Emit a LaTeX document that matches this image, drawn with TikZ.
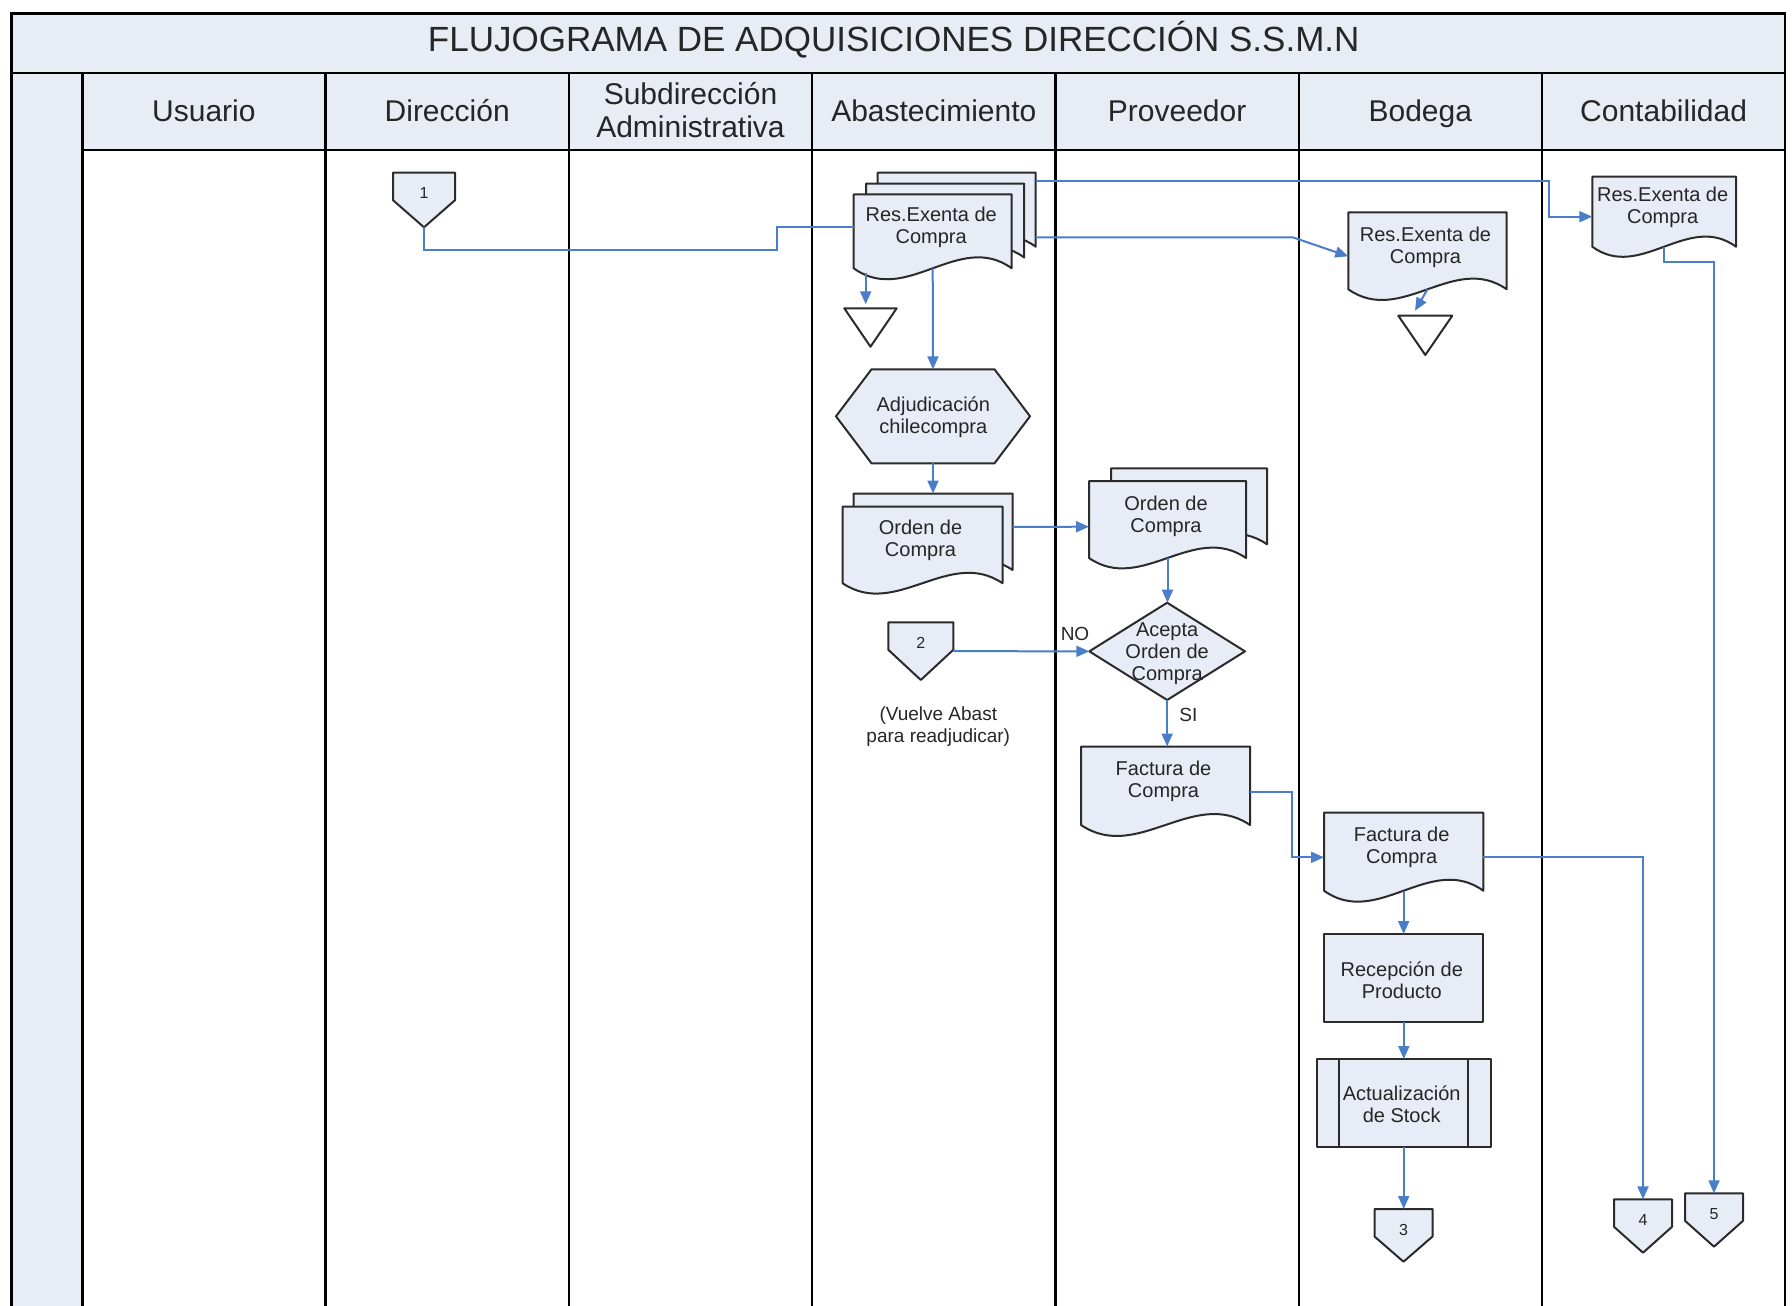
\documentclass[tikz,border=0pt]{standalone}
\usepackage{fontspec}
\setmainfont{Liberation Sans}
\usetikzlibrary{arrows.meta,calc}
\definecolor{lbfill}{HTML}{E8ECF6}
\definecolor{hdrfill}{HTML}{E8ECF4}
\definecolor{conblue}{HTML}{4A7EC8}
\definecolor{shpline}{HTML}{2B2B2B}
\tikzset{
  frame/.style={line width=2.4pt, draw=black},
  box/.style={inner sep=0pt, outer sep=0pt, draw=none},
  shp/.style={fill=lbfill, draw=shpline, line width=2pt, line join=round},
  conn/.style={draw=conblue, line width=2pt},
  arr/.style={conn, -{Triangle[length=13pt,width=11pt]}},
  txt/.style={font=\fontsize{20}{22}\selectfont, align=center, inner sep=0pt, text=black!85, yshift=-2.3pt},
  hdr/.style={font=\fontsize{30}{33}\selectfont, align=center, inner sep=0pt, text=black!85},
  digit/.style={font=\fontsize{16}{18}\selectfont, inner sep=0pt, text=black!85, yshift=-1pt},
}
\newcommand{\docshp}[2]{\filldraw[shp] (#1.north west) -- (#1.north east) -- (#1.south east)
  .. controls ($(#1.south east)!0.3333!(#1.south west)+(0,-#2)$) and ($(#1.south east)!0.6667!(#1.south west)+(0,#2)$) .. (#1.south west) -- cycle;}
\newcommand{\pentshp}[1]{\filldraw[shp] (#1.north west) -- (#1.north east) -- ($(#1.north east)+(0,27.5)$) -- (#1.south) -- ($(#1.north west)+(0,27.5)$) -- cycle;}
\newcommand{\trishp}[1]{\draw[shp, fill=white] (#1.north west) -- (#1.north east) -- (#1.south) -- cycle;}
\newcommand{\hexshp}[1]{\filldraw[shp] ($(#1.north west)+(35.5,0)$) -- ($(#1.north east)+(-35.5,0)$) -- (#1.east) -- ($(#1.south east)+(-35.5,0)$) -- ($(#1.south west)+(35.5,0)$) -- (#1.west) -- cycle;}
\newcommand{\diashp}[1]{\filldraw[shp] (#1.north) -- (#1.east) -- (#1.south) -- (#1.west) -- cycle;}
\newcommand{\predshp}[1]{\filldraw[shp] (#1.north west) rectangle (#1.south east);
  \draw[shp, fill=none] ($(#1.north west)+(22.5,0)$) -- ($(#1.south west)+(22.5,0)$);
  \draw[shp, fill=none] ($(#1.north east)+(-22.5,0)$) -- ($(#1.south east)+(-22.5,0)$);}
\newcommand{\rectshp}[1]{\filldraw[shp] (#1.north west) rectangle (#1.south east);}

\begin{document}
\begin{tikzpicture}[x=1pt,y=-1pt]
\useasboundingbox (0,0) rectangle (1792,1306);
\fill[white] (0,0) rectangle (1792,1306);
\fill[hdrfill] (11.4,13.7) rectangle (1785,150);
\fill[hdrfill] (11.4,73) rectangle (82.3,1306);
\draw[frame] (11.4,1306) -- (11.4,13.7) -- (1785,13.7) -- (1785,1306);
\draw[frame] (11.4,73) -- (1785,73);
\draw[frame] (82.3,150) -- (1785,150);
\foreach \x in {82.3,325.6,568.8,812.1,1055.4,1298.7,1541.9} \draw[frame] (\x,73) -- (\x,1306);

% title and headers
\node[font=\fontsize{35}{40}\selectfont, anchor=base, inner sep=0pt, text=black!85] (title) at (893.7,51.5) {FLUJOGRAMA DE ADQUISICIONES DIRECCIÓN S.S.M.N};
\node[hdr, anchor=base] (hUsu) at (203.9,121.6) {Usuario};
\node[hdr, anchor=base] (hDir) at (447.2,121.6) {Dirección};
\node[hdr] (hSub) at (690.5,110.3) {Subdirección\\Administrativa};
\node[hdr, anchor=base] (hAba) at (933.8,121.6) {Abastecimiento};
\node[hdr, anchor=base] (hPro) at (1177.1,121.6) {Proveedor};
\node[hdr, anchor=base] (hBod) at (1420.3,121.6) {Bodega};
\node[hdr, anchor=base] (hCon) at (1663.6,121.6) {Contabilidad};

% connector 1
\node[box, minimum width=62, minimum height=54.6, anchor=north] (c1) at (424,172.7) {};
\pentshp{c1}
\node[digit] (c1t) at ($(c1.north)+(0,19.5)$) {1};

% Res.Exenta multi document (Abastecimiento)
\node[box, minimum width=158, minimum height=74, anchor=north west] (resA3) at (877.7,172.7) {};
\docshp{resA3}{38}
\node[box, minimum width=158, minimum height=74, anchor=north west] (resA2) at (866.2,183.5) {};
\docshp{resA2}{38}
\node[box, minimum width=158, minimum height=74, anchor=north west] (resA) at (853.7,194.3) {};
\docshp{resA}{38}
\node[txt] (resAt) at ($(resA.center)+(-1.5,-6)$) {Res.Exenta de\\Compra};

% triangle A
\node[box, minimum width=52.4, minimum height=38.4, anchor=north west] (triA) at (844.3,308.3) {};
\trishp{triA}

% hexagon
\node[box, minimum width=194, minimum height=94, anchor=north west] (hexA) at (836,369.3) {};
\hexshp{hexA}
\node[txt] (hexAt) at (933.3,415) {Adjudicación\\chilecompra};

% Orden de compra (Abastecimiento)
\node[box, minimum width=159, minimum height=76.5, anchor=north west] (ordA2) at (853.5,493.5) {};
\docshp{ordA2}{36}
\node[box, minimum width=160, minimum height=76.5, anchor=north west] (ordA) at (842.5,506.7) {};
\docshp{ordA}{36}
\node[txt] (ordAt) at ($(ordA.center)+(-2,-6.5)$) {Orden de\\Compra};

% Orden de compra (Proveedor)
\node[box, minimum width=156, minimum height=76, anchor=north west] (ordP2) at (1111,468.3) {};
\docshp{ordP2}{36}
\node[box, minimum width=157, minimum height=77, anchor=north west] (ordP) at (1089,481) {};
\docshp{ordP}{36}
\node[txt] (ordPt) at ($(ordP.center)+(-1.5,-5)$) {Orden de\\Compra};

% diamond
\node[box, minimum width=155.7, minimum height=97.3, anchor=north west] (dia) at (1089.3,602.7) {};
\diashp{dia}
\node[txt, font=\fontsize{20}{21.7}\selectfont] (diat) at ($(dia.center)+(0,0)$) {Acepta\\Orden de\\Compra};

% connector 2
\node[box, minimum width=65, minimum height=57.7, anchor=north] (c2) at (920.8,622.3) {};
\pentshp{c2}
\node[digit] (c2t) at ($(c2.north)+(0,19.5)$) {2};
\node[txt, font=\fontsize{19}{21.7}\selectfont] (vuelve) at (938.3,724) {(Vuelve Abast\\para readjudicar)};
\node[txt, font=\fontsize{19}{21}\selectfont] (lno) at (1075,631.7) {NO};
\node[txt, font=\fontsize{19}{21}\selectfont] (lsi) at (1188.3,712.7) {SI};

% Factura (Proveedor)
\node[box, minimum width=169, minimum height=78.5, anchor=north west] (facP) at (1081,746.5) {};
\docshp{facP}{38}
\node[txt] (facPt) at ($(facP.center)+(-2,-6.5)$) {Factura de\\Compra};

% Factura (Bodega)
\node[box, minimum width=159.3, minimum height=78, anchor=north west] (facB) at (1324,812.7) {};
\docshp{facB}{38}
\node[txt] (facBt) at ($(facB.center)+(-2,-7)$) {Factura de\\Compra};

% Recepcion
\node[box, minimum width=159, minimum height=87.7, anchor=north west] (rec) at (1324.3,934) {};
\rectshp{rec}
\node[txt] (rect) at ($(rec.center)+(-2,0)$) {Recepción de\\Producto};

% Actualizacion
\node[box, minimum width=174, minimum height=88.3, anchor=north west] (act) at (1316.7,1059) {};
\predshp{act}
\node[txt] (actt) at ($(act.center)+(-2,-1.5)$) {Actualización\\de Stock};

% connectors 3,4,5
\node[box, minimum width=58, minimum height=52.7, anchor=north] (c3) at (1403.5,1209) {};
\pentshp{c3}
\node[digit] (c3t) at ($(c3.north)+(0,19.5)$) {3};
\node[box, minimum width=58, minimum height=53.4, anchor=north] (c4) at (1643,1199.3) {};
\pentshp{c4}
\node[digit] (c4t) at ($(c4.north)+(0,20)$) {4};
\node[box, minimum width=58, minimum height=53.4, anchor=north] (c5) at (1714,1193.3) {};
\pentshp{c5}
\node[digit] (c5t) at ($(c5.north)+(0,19.5)$) {5};

% Res.Exenta (Bodega)
\node[box, minimum width=158.4, minimum height=77, anchor=north west] (resB) at (1348.3,212.3) {};
\docshp{resB}{37}
\node[txt] (resBt) at ($(resB.center)+(-2,-5.6)$) {Res.Exenta de\\Compra};
\node[box, minimum width=54, minimum height=39.3, anchor=north west] (triB) at (1398.3,315.7) {};
\trishp{triB}

% Res.Exenta (Contabilidad)
\node[box, minimum width=143.7, minimum height=70, anchor=north west] (resC) at (1592.3,176.7) {};
\docshp{resC}{35}
\node[txt] (resCt) at ($(resC.center)+(-1.5,-6.2)$) {Res.Exenta de\\Compra};

% connectors (lines)
\draw[conn] (c1.south) -- ++(0,22.7) -| ($(resA.west)+(-77,-4)$) -- ($(resA.west)+(0,-4)$);
\draw[arr] ($(resA.south west)+(12,5)$) -- ($(triA.north)+(-4.8,-4)$);
\draw[arr] (resA.south) -- (hexA.north);
\draw[arr] (hexA.south) -- (ordA2.north);
\draw[arr] ($(ordA2.north east)+(0,33.4)$) -- ($(ordP.north west)+(0,45.7)$);
\draw[arr] (ordP.south) -- (ordP.south |- dia.north);
\draw[arr] (c2.east) -- (dia.west);
\draw[arr] (dia.south) -- (dia.south |- facP.north);
\draw[arr] ($(facP.north east)+(0,45.8)$) -- ++(41.7,0) |- ($(facB.north west)+(0,44.6)$);
\draw[arr] (facB.south) -- (facB.south |- rec.north);
\draw[arr] (rec.south) -- (rec.south |- act.north);
\draw[arr] (act.south) -- (act.south |- c3.north);
\draw[arr] ($(facB.north east)+(0,44.6)$) -| (c4.north);
\draw[arr] ($(resA3.north east)+(0,64.6)$) -- ++(257,0) -- ($(resB.north west)+(0,44)$);
\draw[arr] (resB.south) -- ($(triB.north)+(-10.3,-5)$);
\draw[arr] ($(resA3.north east)+(0,8)$) -- ++(513.6,0) |- ($(resC.north west)+(0,40)$);
\draw[arr] (resC.south) -- ++(0,15) -| (c5.north);
\end{tikzpicture}
\end{document}
